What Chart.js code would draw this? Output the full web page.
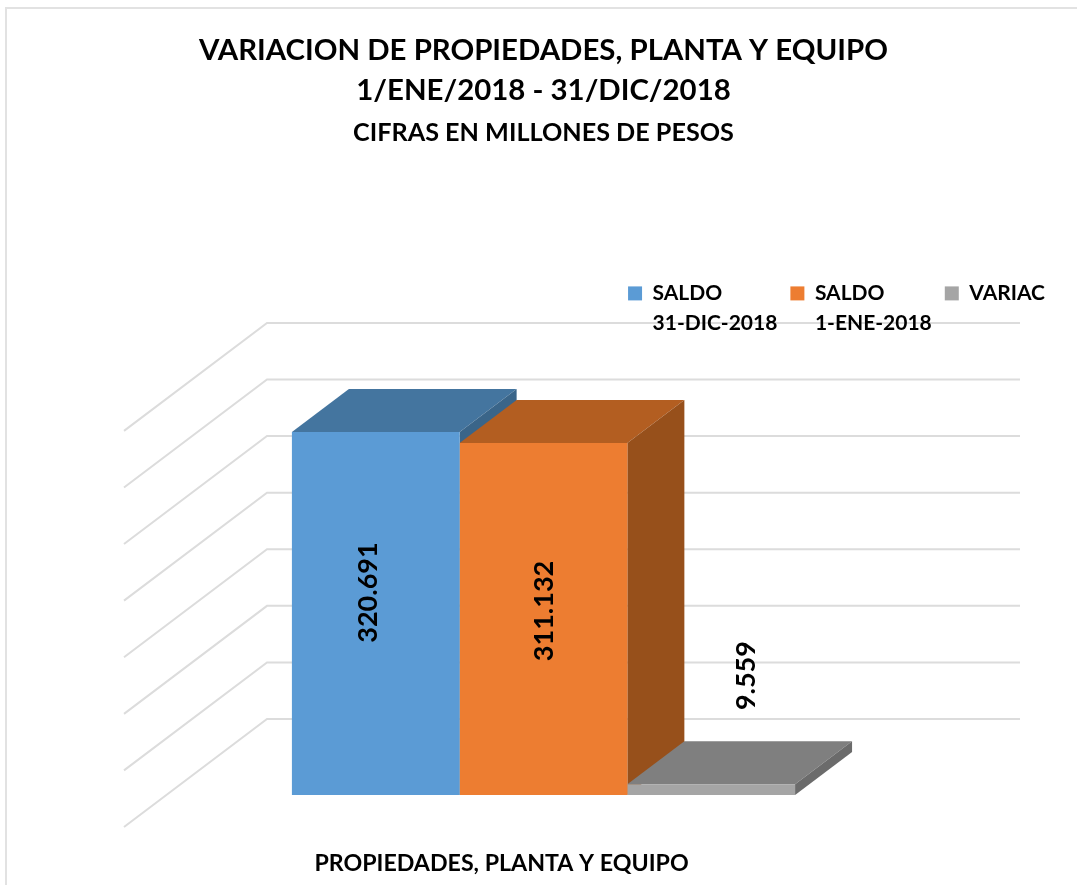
<!DOCTYPE html>
<html><head><meta charset="utf-8">
<style>
html,body{margin:0;padding:0;background:#fff;overflow:hidden}
#wrap{position:relative;width:1077px;height:885px}
#frame{position:absolute;left:5px;top:7px;right:0;bottom:0;border-left:2px solid #e2e2e2;border-top:2px solid #e2e2e2}
canvas{position:absolute;left:0;top:0}
</style>
<script src="https://cdn.jsdelivr.net/npm/chart.js@4/dist/chart.umd.min.js"></script>
</head><body>
<div id="wrap"><div id="frame"></div><canvas id="c" width="1077" height="885"></canvas></div>
<script>
const categories = ['PROPIEDADES, PLANTA Y EQUIPO'];
const saldoDic = [320691];
const saldoEne = [311132];
const variacion = [9559];
const legendDic = ['SALDO', '31-DIC-2018'];
const legendEne = ['SALDO', '1-ENE-2018'];
const legendVar = ['VARIAC'];
const yTickStep = 50000;
const yMax = 350000;

const FONT = 'Lato, "Open Sans", sans-serif';
const depth = {dx: 57, dy: 43};
const wall = {left: 267, right: 1020, front: 124, backDy: -76, frontDy: 32};
const faces = [
  {top: '#44759f', side: '#3a6589'},
  {top: '#b35e21', side: '#97501b'},
  {top: '#7f7f7f', side: '#6b6b6b'}
];
const labelShift = [{x: -7, y: -21}, {x: 1, y: -8}, {x: 35, y: -114}];
const legendExtraHeight = 85;

function poly(ctx, pts, fill) {
  ctx.beginPath();
  pts.forEach((p, i) => i ? ctx.lineTo(p[0], p[1]) : ctx.moveTo(p[0], p[1]));
  ctx.closePath();
  ctx.fillStyle = fill;
  ctx.fill();
}

// Two-line legend items: measure them by their longest line.
function withLongestLine(ctx, fn) {
  const m = ctx.measureText;
  ctx.measureText = function (t) {
    return m.call(this, Array.isArray(t) ? t.reduce((a, b) => a.length > b.length ? a : b) : t);
  };
  fn();
  delete ctx.measureText;
}

const threeD = {
  id: 'threeD',
  beforeLayout(chart) {
    const lg = chart.legend;
    if (lg._patched) return;
    lg._patched = true;
    const fit = lg.fit, draw = lg.draw;
    lg.fit = function () {
      withLongestLine(this.ctx, () => fit.call(this));
      this.height += legendExtraHeight;
    };
    lg.draw = function () {
      withLongestLine(this.ctx, () => draw.call(this));
    };
  },
  beforeDraw(chart) {
    const ctx = chart.ctx, y = chart.scales.y;
    ctx.save();
    ctx.strokeStyle = '#dcdcdc';
    ctx.lineWidth = 2;
    y.ticks.forEach(t => {
      const py = y.getPixelForValue(t.value);
      ctx.beginPath();
      ctx.moveTo(wall.front, py + wall.frontDy);
      ctx.lineTo(wall.left, py + wall.backDy);
      ctx.lineTo(wall.right, py + wall.backDy);
      ctx.stroke();
    });
    ctx.restore();
  },
  beforeDatasetsDraw(chart) {
    const ctx = chart.ctx;
    ctx.save();
    chart.data.datasets.forEach((ds, i) => {
      const b = chart.getDatasetMeta(i).data[0];
      const l = b.x - b.width / 2, r = b.x + b.width / 2, t = b.y, bt = b.base;
      poly(ctx, [[l, t], [r, t], [r + depth.dx, t - depth.dy], [l + depth.dx, t - depth.dy]], faces[i].top);
      poly(ctx, [[r, t], [r + depth.dx, t - depth.dy], [r + depth.dx, bt - depth.dy], [r, bt]], faces[i].side);
    });
    ctx.restore();
  },
  afterDatasetsDraw(chart) {
    const ctx = chart.ctx;
    ctx.save();
    ctx.fillStyle = '#000';
    ctx.font = 'bold 27px ' + FONT;
    ctx.textAlign = 'center';
    ctx.textBaseline = 'middle';
    chart.data.datasets.forEach((ds, i) => {
      const b = chart.getDatasetMeta(i).data[0];
      const txt = ds.data[0].toLocaleString('es-CO').replace(/,/g, '.');
      ctx.save();
      ctx.translate(b.x + labelShift[i].x, (b.y + b.base) / 2 + labelShift[i].y);
      ctx.rotate(-Math.PI / 2);
      ctx.fillText(txt, 0, 0);
      ctx.restore();
    });
    ctx.restore();
  }
};

new Chart(document.getElementById('c'), {
  type: 'bar',
  data: {
    labels: categories,
    datasets: [
      {label: legendDic, data: saldoDic, backgroundColor: '#5b9bd5'},
      {label: legendEne, data: saldoEne, backgroundColor: '#ed7d31'},
      {label: legendVar, data: variacion, backgroundColor: '#a5a5a5'}
    ]
  },
  options: {
    responsive: false,
    animation: false,
    layout: {padding: {left: 29, right: 19, top: 30, bottom: 0}},
    datasets: {bar: {categoryPercentage: 0.489, barPercentage: 1}},
    scales: {
      x: {
        grid: {display: false},
        border: {display: false},
        afterFit(s) { s.height = 90; },
        ticks: {
          color: '#000', font: {family: FONT, size: 23.2, weight: 'bold'},
          padding: 47, labelOffset: -42, maxRotation: 0, autoSkip: false
        }
      },
      y: {
        display: false, min: 0, max: yMax,
        ticks: {stepSize: yTickStep}
      }
    },
    plugins: {
      tooltip: {enabled: false},
      title: {
        display: true,
        text: ['VARIACION DE PROPIEDADES, PLANTA Y EQUIPO', '1/ENE/2018 - 31/DIC/2018'],
        color: '#000',
        font: {family: FONT, size: 29.4, weight: 'bold', lineHeight: 1.38},
        padding: {top: 0, bottom: 0}
      },
      subtitle: {
        display: true,
        text: 'CIFRAS EN MILLONES DE PESOS',
        color: '#000',
        font: {family: FONT, size: 25.2, weight: 'bold', lineHeight: 1.3},
        padding: {top: 5, bottom: 121}
      },
      legend: {
        display: true, position: 'top', align: 'end',
        labels: {
          color: '#000', boxWidth: 14, boxHeight: 14, padding: 13,
          font: {family: FONT, size: 21, weight: 'bold', lineHeight: 1.4},
          generateLabels(chart) {
            return chart.data.datasets.map((ds, i) => ({
              text: ds.label, fillStyle: ds.backgroundColor, strokeStyle: ds.backgroundColor,
              lineWidth: 0, datasetIndex: i, fontColor: '#000'
            }));
          }
        }
      }
    }
  },
  plugins: [threeD]
});
</script>
</body></html>
